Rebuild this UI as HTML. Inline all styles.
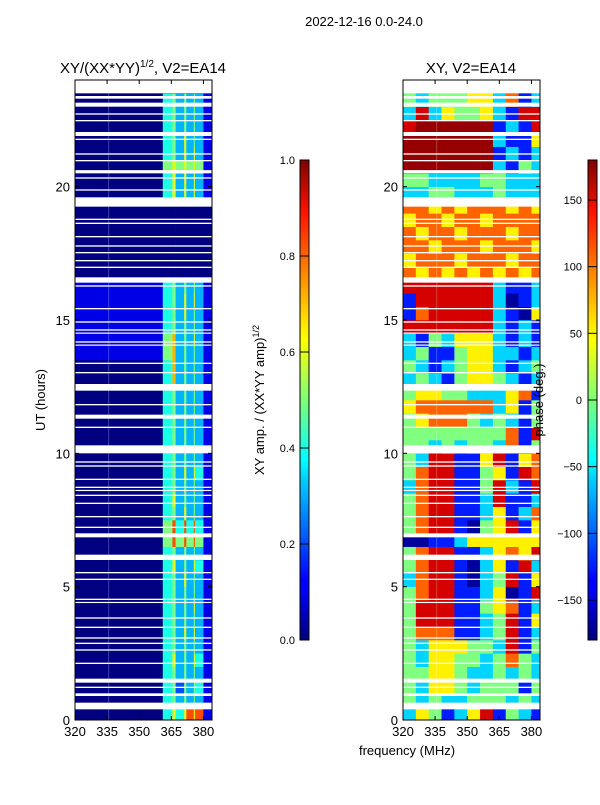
<!DOCTYPE html>
<html><head><meta charset="utf-8"><style>
body{margin:0;background:#fff;width:600px;height:800px;overflow:hidden;font-family:"Liberation Sans",sans-serif;}
svg text{font-family:"Liberation Sans",sans-serif;}
</style></head><body>
<svg id="fig" width="600" height="800" xmlns="http://www.w3.org/2000/svg">
<defs>
<linearGradient id="jetg" x1="0" y1="1" x2="0" y2="0">
<stop offset="0" stop-color="#000080"/><stop offset="0.11" stop-color="#0000ff"/><stop offset="0.125" stop-color="#0000ff"/>
<stop offset="0.34" stop-color="#00d4ff"/><stop offset="0.375" stop-color="#00ffff"/><stop offset="0.5" stop-color="#7dff7a"/>
<stop offset="0.625" stop-color="#ffff00"/><stop offset="0.66" stop-color="#ffe600"/><stop offset="0.89" stop-color="#ff1300"/>
<stop offset="1" stop-color="#800000"/>
</linearGradient>
</defs>
<text x="364" y="26" font-size="13" text-anchor="middle">2022-12-16 0.0-24.0</text>
<text x="143" y="73" font-size="15" text-anchor="middle">XY/(XX*YY)<tspan font-size="10" dy="-6">1/2</tspan><tspan dy="6">, V2=EA14</tspan></text>
<text x="471" y="73" font-size="15" text-anchor="middle">XY, V2=EA14</text>
<g id="left"></g>
<g id="right"></g>
<text transform="translate(45,400) rotate(-90)" font-size="13" text-anchor="middle">UT (hours)</text>
<text x="407" y="755" font-size="13" text-anchor="middle">frequency (MHz)</text>
<rect x="300" y="160" width="9" height="480" fill="url(#jetg)" stroke="#000" stroke-width="1"/>
<rect x="588" y="160" width="9" height="480" fill="url(#jetg)" stroke="#000" stroke-width="1"/>
<g id="cb1"></g>
<g id="cb2"></g>
<text transform="translate(264,400) rotate(-90)" font-size="13" text-anchor="middle">XY amp. / (XX*YY amp)<tspan font-size="9" dy="-5">1/2</tspan></text>
<text transform="translate(543,400) rotate(-90)" font-size="13" text-anchor="middle">phase (deg.)</text>
</svg>
<script>
const leftFreqEdges=[320,361,365.5,367,371,372,375.5,376,380,384];
const leftRows=[
"046468681","045353531","045253541","045353531","046353641","045353531","045363631","045353531",
"045353631","045353531","045363531","046353641","045353531","058585851","058484841","045363531",
"046353531","045353531","045363641","045353531","045353531","045353531","045353531","045353531",
"045353531","047353531","047353531","157353531","157353631","145353531","145363531","145363631",
"145353531","000000000","000000000","000000000","000000000","000000000","000000000","046363631",
"046363631","056565651","045363631","045363531","045353531","045353531","045353531","000000000"];
const rightFreqEdges=[320,326,332,338,344,350,356,362,368,374,380,384];
const rightRows=[
"cygbcyrbgcbg","gcgccgggcgcg","gcyygcgggbgg","ggyygccgcgcg","gcyyggcgogcg","gcyyyggcrbgg",
"gooobbcgrbco","grrrbbcgrbyc","grrrbbgyobcg","gorrbbcydbrg","corrbdcgrbyg","gorrbdcybrcg",
"gorrbbcyoyrb","ddbbcyyyyyyy","gorrbdgyrbyr","gorrbbcybcog","gorrbbcrbbco","corrbbgrcbrg",
"gorrbbgybrog","gcrrbbyrbyog","ggcgcggcobgg","ggggggggobrg","gyooogcgcbgg","yoooooocybgg",
"gyyggcccyobg","cgcbgyygcbcg","gcbcgyycbcgg","cgbbgyyccbcg","cbgcyyycbcbg","rrrrrrrcbcbr",
"borrrrrcbdyr","brrrrrrcdbcr","rrrrrrrcbbcr","oyoyoyoyoyoy","yoooyoooyooo","ooyoooyoooyo",
"oyooyoooyooy","yooyooyooooy","ooyoyoooyoyo","ccggcccgcccg","ggccccggcccg","RRRRRRRcbgcr",
"RRRRRRRbcbcr","RRRRRRRcbbyR","rRRRRRRbcbrR","crcyggycbrrc","gcgggyycobcg","gcgggyycobcg"];
const phaseCodes={d:-170,b:-125,c:-60,g:0,y:50,o:100,r:150,R:172};
const gaps=[[23.5,24],[23.3,23.4],[23.0,23.15],[22.7,22.75],[22.45,22.5],[21.9,22.05],[21.75,21.8],[21.2,21.25],[20.95,21.0],[20.5,20.62],[20.3,20.35],[19.85,19.9],[19.25,19.6],[18.6,18.65],[18.75,18.8],[18.1,18.15],[17.75,17.8],[17.5,17.55],[17.2,17.25],[16.95,17.0],[16.4,16.6],[16.25,16.3],[15.4,15.45],[14.9,14.95],[14.6,14.65],[14.5,14.53],[14.15,14.2],[14.05,14.08],[13.35,13.4],[13.0,13.05],[12.35,12.6],[11.8,11.85],[11.3,11.45],[10.95,11.0],[10.0,10.3],[9.65,9.7],[9.5,9.55],[9.0,9.05],[8.7,8.75],[8.6,8.63],[8.4,8.45],[8.1,8.15],[7.6,7.65],[7.2,7.25],[6.85,7.0],[6.0,6.2],[5.5,5.55],[5.25,5.3],[4.5,4.55],[4.4,4.43],[3.8,3.85],[3.45,3.5],[3.05,3.1],[2.85,2.9],[2.6,2.65],[2.1,2.15],[1.4,1.55],[1.2,1.25],[0.9,1.0],[0.4,0.65]];
const xTicks=[320,335,350,365,380];
const yTicks=[0,5,10,15,20];
const ampTicks=[0.0,0.2,0.4,0.6,0.8,1.0];
const phaseTicks=[-150,-100,-50,0,50,100,150];

const NS="http://www.w3.org/2000/svg";
function jet(v){v=Math.max(0,Math.min(1,v));
 const c=x=>Math.round(255*Math.max(0,Math.min(1,x)));
 return `rgb(${c(1.5-Math.abs(4*v-3))},${c(1.5-Math.abs(4*v-2))},${c(1.5-Math.abs(4*v-1))})`;}
const T0=80,T1=720;
const yS=t=>T1-(t/24)*(T1-T0);
function mk(tag,attrs,parent){const e=document.createElementNS(NS,tag);for(const k in attrs)e.setAttribute(k,attrs[k]);parent.appendChild(e);return e;}
function panel(gid,X0,X1,edges,rows,valFn){
 const g=document.getElementById(gid);
 const xS=f=>X0+(f-320)/(384-320)*(X1-X0);
 rows.forEach((row,i)=>{
  for(let j=0;j<edges.length-1;j++){
   const x=xS(edges[j]),x2=xS(edges[j+1]);
   const r=mk('rect',{x:x.toFixed(2),y:yS((i+1)*0.5).toFixed(2),width:(x2-x+0.3).toFixed(2),height:(yS(i*0.5)-yS((i+1)*0.5)+0.3).toFixed(2),fill:jet(valFn(row[j]))},g);
   
   
  }
 });
 const vl=mk('rect',{x:xS(335.5),y:T0,width:1,height:T1-T0,fill:'#ffffff','fill-opacity':0.25},g);
 
 
 gaps.forEach(gp=>{
  const r=mk('rect',{x:X0,y:yS(gp[1]).toFixed(2),width:X1-X0,height:Math.max(1.2,yS(gp[0])-yS(gp[1])).toFixed(2),fill:'#fff'},g);
  
  
 });
 const fr=mk('rect',{x:X0,y:T0,width:X1-X0,height:T1-T0,fill:'none',stroke:'#000','stroke-width':1},g);
 
 
 xTicks.forEach(v=>{
  const x=xS(v);
  mk('line',{x1:x,y1:T1,x2:x,y2:T1-4,stroke:'#000'},g);
  mk('line',{x1:x,y1:T0,x2:x,y2:T0+4,stroke:'#000'},g);
  const t=mk('text',{x:x,y:T1+16,'font-size':13,'text-anchor':'middle'},g);t.textContent=v;
  
  
 });
 yTicks.forEach(v=>{
  const y=yS(v);
  mk('line',{x1:X0,y1:y,x2:X0+4,y2:y,stroke:'#000'},g);
  mk('line',{x1:X1,y1:y,x2:X1-4,y2:y,stroke:'#000'},g);
  const t=mk('text',{x:X0-5,y:y+5,'font-size':13,'text-anchor':'end'},g);t.textContent=v;
  
  
 });
}
panel('left',75,212,leftFreqEdges,leftRows,ch=>(+ch)/10);
panel('right',403,540,rightFreqEdges,rightRows,ch=>(phaseCodes[ch]+180)/360);
const cb1=document.getElementById('cb1');
ampTicks.forEach(v=>{const y=640-v*480;
 mk('line',{x1:300,y1:y,x2:309,y2:y,stroke:'#000'},cb1);
 const t=mk('text',{x:295,y:y+4,'font-size':11,'text-anchor':'end'},cb1);t.textContent=v.toFixed(1);
 
 
});
const cb2=document.getElementById('cb2');
phaseTicks.forEach(v=>{const y=400-v*480/360;
 mk('line',{x1:588,y1:y,x2:597,y2:y,stroke:'#000'},cb2);
 const t=mk('text',{x:582,y:y+4,'font-size':11,'text-anchor':'end'},cb2);t.textContent=v<0?'\u2212'+(-v):v;
 
 
});
</script>
</body></html>
